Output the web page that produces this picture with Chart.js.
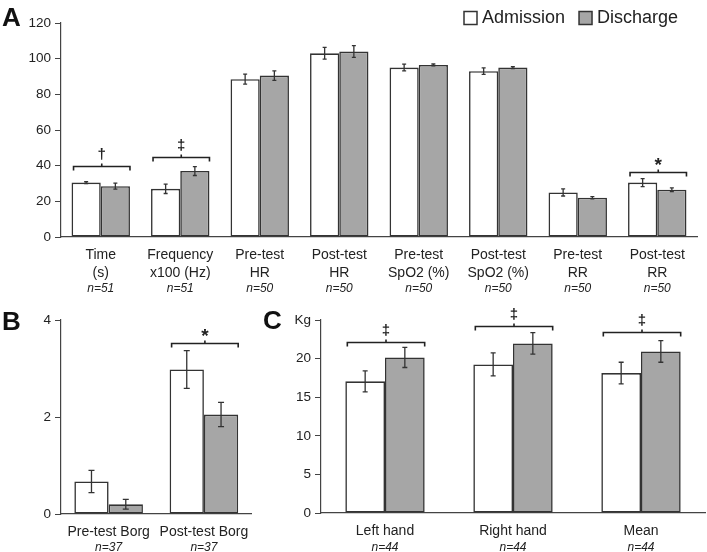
<!DOCTYPE html>
<html>
<head>
<meta charset="utf-8">
<script src="https://cdn.jsdelivr.net/npm/chart.js@4"></script>
<style>
body { margin: 0; background: #fff; width: 707px; height: 552px; position: relative; overflow: hidden; }
canvas { position: absolute; }
</style>
</head>
<body>
<canvas id="chartA" width="707" height="300" style="left:0;top:0"></canvas>
<canvas id="chartB" width="258" height="252" style="left:0;top:300px"></canvas>
<canvas id="chartC" width="449" height="252" style="left:258px;top:300px"></canvas>
<script>
// Panel A - test results
const labelsA = [['Time', '(s)'], ['Frequency', 'x100 (Hz)'], ['Pre-test', 'HR'], ['Post-test', 'HR'],
    ['Pre-test', 'SpO2 (%)'], ['Post-test', 'SpO2 (%)'], ['Pre-test', 'RR'], ['Post-test', 'RR']];
const nA = ['n=51', 'n=51', 'n=50', 'n=50', 'n=50', 'n=50', 'n=50', 'n=50'];
const admissionA = [30.5, 27, 88.5, 103, 95, 93, 25, 30.5];
const dischargeA = [28.5, 37, 90.5, 104, 96.5, 95, 22, 26.5];
const admissionErrA = [0.5, 2.6, 2.8, 3.3, 1.9, 1.8, 2, 2.2];
const dischargeErrA = [1.7, 2.5, 2.7, 3.3, 0.5, 0.5, 0.6, 1.1];
const bracketA = [40, 45, null, null, null, null, null, 36.3];
const signA = ['†', '‡', '', '', '', '', '', '*'];

// Panel B - Borg
const labelsB = ['Pre-test Borg', 'Post-test Borg'];
const nB = ['n=37', 'n=37'];
const admissionB = [0.67, 2.98];
const dischargeB = [0.2, 2.05];
const admissionErrB = [0.23, 0.39];
const dischargeErrB = [0.1, 0.25];
const bracketB = [null, 3.52];
const signB = ['', '*'];

// Panel C - hand grip (Kg)
const labelsC = ['Left hand', 'Right hand', 'Mean'];
const nC = ['n=44', 'n=44', 'n=44'];
const admissionC = [17.05, 19.25, 18.13];
const dischargeC = [20.15, 21.97, 20.93];
const admissionErrC = [1.35, 1.5, 1.4];
const dischargeErrC = [1.3, 1.4, 1.4];
const bracketC = [22.2, 24.25, 23.4];
const signC = ['‡', '‡', '‡'];

const seriesNames = ['Admission', 'Discharge'];
const fills = ['#ffffff', '#a6a6a6'];
const font = '"Liberation Sans", Arial, sans-serif';

Chart.defaults.font.family = font;
Chart.defaults.color = '#222';

// error bars, significance brackets, n= lines, panel letter, legend
const extras = {
    id: 'extras',
    afterDatasetsDraw(chart, args, opts) {
        const ctx = chart.ctx;
        const x = chart.scales.x, y = chart.scales.y;
        ctx.save();
        ctx.strokeStyle = '#333';
        ctx.lineWidth = 1.3;
        chart.data.datasets.forEach((ds, d) => {
            chart.getDatasetMeta(d).data.forEach((bar, i) => {
                const v = ds.data[i], e = opts.errors[d][i];
                const top = y.getPixelForValue(v + e), bot = y.getPixelForValue(v - e);
                ctx.beginPath();
                ctx.moveTo(bar.x, top); ctx.lineTo(bar.x, bot);
                ctx.moveTo(bar.x - opts.cap, top); ctx.lineTo(bar.x + opts.cap, top);
                ctx.moveTo(bar.x - opts.cap, bot); ctx.lineTo(bar.x + opts.cap, bot);
                ctx.stroke();
            });
        });

        const m0 = chart.getDatasetMeta(0), m1 = chart.getDatasetMeta(1);
        ctx.strokeStyle = '#222';
        ctx.fillStyle = '#222';
        ctx.lineWidth = 1.6;
        ctx.textAlign = 'center';
        ctx.textBaseline = 'alphabetic';
        opts.brackets.forEach((b, i) => {
            if (b == null) return;
            const l = m0.data[i].x - m0.data[i].width / 2 + 2;
            const r = m1.data[i].x + m1.data[i].width / 2;
            const yy = Math.round(y.getPixelForValue(b)) + 0.5;
            const mid = (l + r) / 2;
            ctx.beginPath();
            ctx.moveTo(l, yy + 4); ctx.lineTo(l, yy); ctx.lineTo(r, yy); ctx.lineTo(r, yy + 4);
            ctx.moveTo(mid, yy); ctx.lineTo(mid, yy - 3);
            ctx.stroke();
            if (opts.signs[i] === '*') {
                ctx.font = 'bold 19px ' + font;
                ctx.fillText('*', mid, yy - 2);
            } else {
                ctx.font = 'bold 15px ' + font;
                ctx.fillText(opts.signs[i], mid, yy - 8);
            }
        });

        ctx.font = 'italic 12px ' + font;
        ctx.textBaseline = 'middle';
        opts.n.forEach((t, i) => {
            ctx.fillText(t, x.getPixelForValue(i), x.top + opts.nOffset);
        });

        ctx.font = 'bold 26px ' + font;
        ctx.textAlign = 'left';
        ctx.textBaseline = 'alphabetic';
        ctx.fillStyle = '#111';
        ctx.fillText(opts.letter[0], opts.letter[1], opts.letter[2]);

        if (opts.legend) {
            let lx = opts.legend[0];
            const ly = opts.legend[1];
            ctx.font = '18px ' + font;
            ctx.textBaseline = 'middle';
            ctx.lineWidth = 1.5;
            chart.data.datasets.forEach(ds => {
                ctx.fillStyle = ds.backgroundColor;
                ctx.fillRect(lx, ly - 6.5, 13, 13);
                ctx.strokeStyle = '#333';
                ctx.strokeRect(lx, ly - 6.5, 13, 13);
                ctx.fillStyle = '#222';
                ctx.fillText(ds.label, lx + 18, ly);
                lx += 18 + ctx.measureText(ds.label).width + 14;
            });
        }
        ctx.restore();
    }
};

function makeChart(id, labels, adm, dis, cfg) {
    return new Chart(document.getElementById(id).getContext('2d'), {
        type: 'bar',
        data: {
            labels: labels,
            datasets: [adm, dis].map((d, k) => ({
                label: seriesNames[k],
                data: d,
                backgroundColor: fills[k],
                borderColor: '#333',
                borderWidth: 1.6,
                borderSkipped: false,
                categoryPercentage: cfg.catPct,
                barPercentage: 1
            }))
        },
        options: {
            responsive: false,
            animation: false,
            layout: { padding: cfg.padding },
            plugins: {
                legend: { display: false },
                tooltip: { enabled: false },
                extras: cfg.extras
            },
            scales: {
                x: {
                    grid: { display: false, drawTicks: false },
                    border: { display: true, color: '#444', width: 1.2 },
                    ticks: { padding: 9, font: { size: 14, lineHeight: 18 / 14 }, color: '#222', maxRotation: 0, autoSkip: false },
                    afterFit: s => { s.height = cfg.xHeight; }
                },
                y: {
                    min: 0,
                    max: cfg.max,
                    grid: { drawOnChartArea: false, drawTicks: true, tickLength: 6, color: '#444' },
                    border: { display: true, color: '#444', width: 1.2 },
                    ticks: { stepSize: cfg.step, padding: 4, font: { size: 13.5 }, color: '#222', callback: cfg.tickCb },
                    afterFit: s => { s.width = cfg.yWidth; }
                }
            }
        },
        plugins: [extras]
    });
}

const chartA = makeChart('chartA', labelsA, admissionA, dischargeA, {
    catPct: 0.735, max: 120, step: 20, yWidth: 61, xHeight: 63,
    padding: { top: 23, right: 10, left: 0, bottom: 0 },
    extras: { errors: [admissionErrA, dischargeErrA], cap: 2, brackets: bracketA, signs: signA,
        n: nA, nOffset: 52, letter: ['A', 2, 26], legend: [464, 18] }
});

const chartB = makeChart('chartB', labelsB, admissionB, dischargeB, {
    catPct: 0.72, max: 4, step: 2, yWidth: 61, xHeight: 38,
    padding: { top: 20, right: 3, left: 0, bottom: 0 },
    extras: { errors: [admissionErrB, dischargeErrB], cap: 3, brackets: bracketB, signs: signB,
        n: nB, nOffset: 34, letter: ['B', 2, 30] }
});

const chartC = makeChart('chartC', labelsC, admissionC, dischargeC, {
    catPct: 0.62, max: 25, step: 5, yWidth: 63, xHeight: 39,
    padding: { top: 20, right: 2, left: 0, bottom: 0 },
    tickCb: v => v === 25 ? 'Kg' : v,
    extras: { errors: [admissionErrC, dischargeErrC], cap: 2.5, brackets: bracketC, signs: signC,
        n: nC, nOffset: 35, letter: ['C', 5, 29] }
});
</script>
</body>
</html>
